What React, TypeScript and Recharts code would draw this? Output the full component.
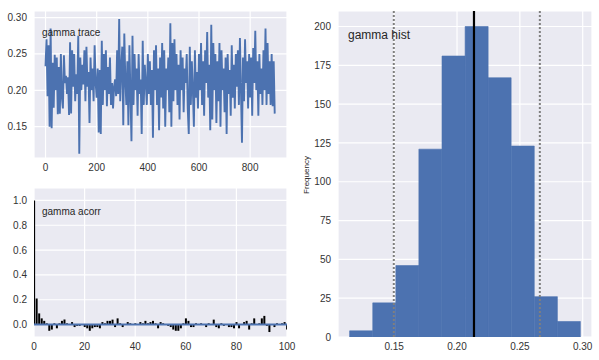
import {
  LineChart,
  Line,
  BarChart,
  Bar,
  XAxis,
  YAxis,
  CartesianGrid,
  ReferenceLine,
} from "recharts";

// sampled trace of gamma, one value every 4 iterations
const traceValues = [
  0.233, 0.27, 0.192, 0.262, 0.15, 0.285, 0.148, 0.238, 0.176, 0.249, 0.2, 0.245, 0.167, 0.232, 0.168, 0.25, 0.19, 0.175, 0.248, 0.21, 0.22, 0.195, 0.218, 0.166, 0.266,
  0.168, 0.255, 0.205, 0.25, 0.185, 0.222, 0.195, 0.275, 0.113, 0.245, 0.2, 0.235, 0.208, 0.255, 0.185, 0.26, 0.205, 0.225, 0.155, 0.245, 0.2, 0.23, 0.185, 0.262, 0.21,
  0.19, 0.23, 0.142, 0.228, 0.14, 0.268, 0.18, 0.25, 0.2, 0.255, 0.178, 0.232, 0.195, 0.245, 0.18, 0.21, 0.175, 0.205, 0.215, 0.192, 0.255, 0.195, 0.298, 0.185, 0.23,
  0.26, 0.152, 0.278, 0.215, 0.18, 0.24, 0.152, 0.262, 0.195, 0.13, 0.275, 0.18, 0.25, 0.2, 0.23, 0.165, 0.25, 0.195, 0.215, 0.14, 0.268, 0.18, 0.235, 0.21, 0.18,
  0.25, 0.195, 0.24, 0.18, 0.228, 0.135, 0.255, 0.2, 0.262, 0.18, 0.23, 0.145, 0.245, 0.19, 0.265, 0.175, 0.255, 0.15, 0.23, 0.2, 0.245, 0.17, 0.292, 0.15, 0.265,
  0.185, 0.27, 0.2, 0.25, 0.18, 0.235, 0.16, 0.255, 0.2, 0.245, 0.17, 0.23, 0.21, 0.25, 0.175, 0.14, 0.26, 0.18, 0.24, 0.2, 0.15, 0.255, 0.19, 0.225, 0.175,
  0.25, 0.2, 0.265, 0.18, 0.24, 0.165, 0.255, 0.21, 0.28, 0.19, 0.235, 0.145, 0.29, 0.16, 0.265, 0.2, 0.25, 0.155, 0.24, 0.185, 0.265, 0.15, 0.255, 0.2, 0.23,
  0.17, 0.245, 0.14, 0.25, 0.195, 0.228, 0.165, 0.262, 0.19, 0.235, 0.175, 0.25, 0.205, 0.255, 0.18, 0.272, 0.2, 0.128, 0.245, 0.185, 0.27, 0.21, 0.24, 0.175, 0.25,
  0.19, 0.245, 0.165, 0.258, 0.21, 0.282, 0.2, 0.24, 0.165, 0.25, 0.195, 0.23, 0.18, 0.255, 0.2, 0.285, 0.18, 0.265, 0.195, 0.24, 0.18, 0.25, 0.178, 0.24, 0.168,
];
const traceStep = 4;
const traceXTicks = [0, 200, 400, 600, 800];
const traceYTicks = [0.15, 0.2, 0.25, 0.3];

// autocorrelation, lags 0..100
const acorrValues = [
  1.0, 0.21, 0.09, 0.05, 0.03, 0.01, -0.05, -0.04, 0.01, -0.03,
  0.01, 0.03, 0.04, 0.01, 0.0, 0.02, -0.02, -0.01, -0.01, 0.0,
  -0.02, -0.03, -0.05, -0.03, -0.02, -0.02, -0.03, 0.02, 0.01, 0.03,
  0.03, 0.04, -0.02, 0.05, 0.01, -0.02, 0.0, 0.02, 0.01, 0.0,
  0.01, 0.0, 0.02, 0.01, 0.03, 0.01, 0.02, 0.03, 0.01, -0.03,
  0.02, 0.01, 0.0, -0.01, -0.02, -0.04, -0.05, -0.05, -0.03, 0.01,
  0.05, 0.03, -0.02, -0.02, 0.01, 0.0, 0.01, 0.0, -0.02, 0.01,
  0.0, 0.04, -0.02, -0.03, 0.01, -0.01, 0.0, -0.02, -0.02, -0.03,
  0.02, -0.03, 0.0, 0.02, 0.03, -0.04, 0.01, 0.05, 0.0, 0.01,
  0.05, 0.07, -0.01, -0.06, 0.0, -0.02, 0.01, 0.0, 0.01, 0.02,
  -0.04,
];
const acorrXTicks = [0, 20, 40, 60, 80, 100];
const acorrYTicks = [0, 0.2, 0.4, 0.6, 0.8, 1.0];

// histogram bins
const histBinCenters = [0.1237, 0.1421, 0.1605, 0.1788, 0.1972, 0.2156, 0.2339, 0.2523, 0.2707, 0.289];
const histCounts = [4, 22, 46, 121, 181, 200, 167, 123, 26, 10];
const histXTicks = [0.15, 0.2, 0.25, 0.3];
const histYTicks = [0, 25, 50, 75, 100, 125, 150, 175, 200];
const histMean = 0.2135;
const histHpd = [0.1497, 0.2659];

const BLUE = "#4C72B0";
const BG = "#EAEAF2";
const tickStyle = { fontSize: 10, fill: "#333" };

const traceData = traceValues.map((v, i) => ({ x: i * traceStep, v }));
const acorrData = acorrValues.map((v, i) => ({ lag: i, v }));
const histData = histBinCenters.map((c, i) => ({ c, n: histCounts[i] }));

export default function App() {
  return (
    <div
      style={{
        position: "absolute",
        left: 0,
        top: 0,
        width: 599,
        height: 360,
        background: "#fff",
        fontFamily: "'Liberation Sans', Arial, sans-serif",
      }}
    >
      <LineChart
        width={300}
        height={180}
        data={traceData}
        margin={{ top: 11, right: 13, left: 0, bottom: 0 }}
        style={{ position: "absolute", left: 0, top: 0 }}
      >
        <CartesianGrid stroke="#fff" fill={BG} strokeWidth={1.2} />
        <XAxis
          type="number"
          dataKey="x"
          domain={[-45, 944]}
          ticks={traceXTicks}
          allowDataOverflow
          axisLine={false}
          tickLine={false}
          tickSize={0}
          tickMargin={6}
          height={22}
          tick={tickStyle}
        />
        <YAxis
          type="number"
          domain={[0.107, 0.309]}
          ticks={traceYTicks}
          allowDataOverflow
          axisLine={false}
          tickLine={false}
          tickSize={0}
          tickMargin={7}
          width={34}
          tick={tickStyle}
          tickFormatter={(v: number) => v.toFixed(2)}
        />
        <Line
          dataKey="v"
          stroke={BLUE}
          strokeWidth={1.9}
          dot={false}
          type="linear"
          isAnimationActive={false}
        />
      </LineChart>

      <BarChart
        width={300}
        height={180}
        data={acorrData}
        margin={{ top: 8, right: 13, left: 0, bottom: 0 }}
        barCategoryGap="15%"
        style={{ position: "absolute", left: 0, top: 180 }}
      >
        <CartesianGrid stroke="#fff" fill={BG} strokeWidth={1.2} />
        <XAxis
          type="number"
          dataKey="lag"
          domain={[0, 100]}
          ticks={acorrXTicks}
          allowDataOverflow
          axisLine={false}
          tickLine={false}
          tickSize={0}
          tickMargin={6}
          height={23}
          tick={tickStyle}
        />
        <YAxis
          type="number"
          domain={[-0.1, 1.1]}
          ticks={acorrYTicks}
          allowDataOverflow
          axisLine={false}
          tickLine={false}
          tickSize={0}
          tickMargin={7}
          width={34}
          tick={tickStyle}
          tickFormatter={(v: number) => v.toFixed(1)}
        />
        <Bar dataKey="v" fill="#000" isAnimationActive={false} />
        <ReferenceLine y={0} stroke={BLUE} strokeWidth={2} />
      </BarChart>

      <BarChart
        width={299}
        height={360}
        data={histData}
        margin={{ top: 11, right: 7, left: 0, bottom: 0 }}
        barCategoryGap={0}
        style={{ position: "absolute", left: 300, top: 0 }}
      >
        <CartesianGrid stroke="#fff" fill={BG} strokeWidth={1.2} />
        <XAxis
          type="number"
          dataKey="c"
          domain={[0.1053, 0.3074]}
          ticks={histXTicks}
          allowDataOverflow
          axisLine={false}
          tickLine={false}
          tickSize={0}
          tickMargin={6}
          height={23}
          tick={tickStyle}
          tickFormatter={(v: number) => v.toFixed(2)}
        />
        <YAxis
          type="number"
          domain={[0, 210]}
          ticks={histYTicks}
          allowDataOverflow
          axisLine={false}
          tickLine={false}
          tickSize={0}
          tickMargin={7}
          width={38}
          tick={tickStyle}
        />
        <Bar
          dataKey="n"
          fill={BLUE}
          stroke={BLUE}
          strokeWidth={0.6}
          isAnimationActive={false}
        />
        <ReferenceLine x={histMean} stroke="#000" strokeWidth={2.2} />
        {histHpd.map((h) => (
          <ReferenceLine
            key={h}
            x={h}
            stroke="#7f7f7f"
            strokeWidth={2}
            strokeDasharray="2 2"
          />
        ))}
      </BarChart>

      <svg
        width={599}
        height={360}
        style={{ position: "absolute", left: 0, top: 0, pointerEvents: "none" }}
      >
        <text x={42} y={35.5} fontSize={10} fill="#262626">
          gamma trace
        </text>
        <text x={42} y={214.5} fontSize={10} fill="#262626">
          gamma acorr
        </text>
        <text x={348} y={38.5} fontSize={12} fill="#262626">
          gamma hist
        </text>
        <text
          x={307}
          y={175}
          fontSize={8}
          fill="#262626"
          textAnchor="middle"
          dominantBaseline="middle"
          transform="rotate(-90 307 175)"
        >
          Frequency
        </text>
      </svg>
    </div>
  );
}
